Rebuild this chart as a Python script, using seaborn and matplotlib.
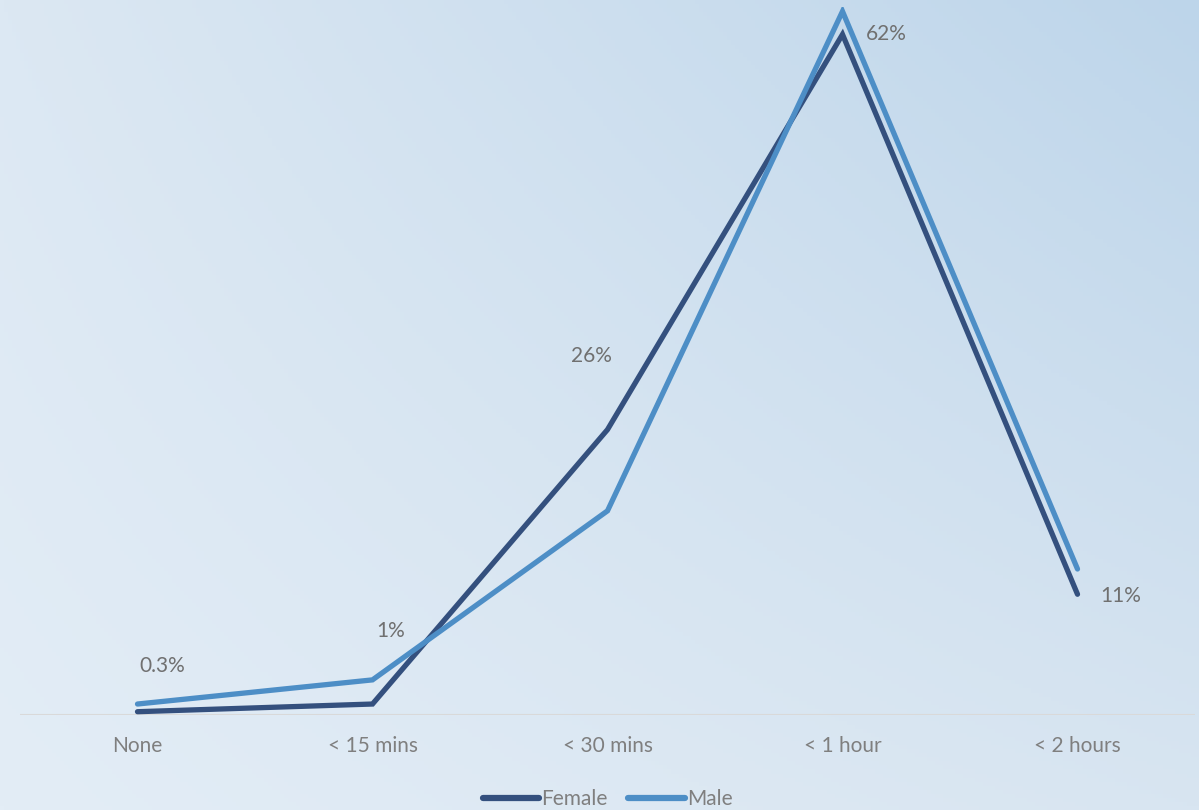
import numpy as np
import pandas as pd
import matplotlib
matplotlib.use("Agg")
import matplotlib.pyplot as plt
import seaborn as sns

categories = ["None", "< 15 mins", "< 30 mins", "< 1 hour", "< 2 hours"]
female = [0.3, 1.0, 26.0, 62.0, 11.0]
male = [1.0, 3.2, 18.6, 64.1, 13.3]
female_labels = ["0.3%", "1%", "26%", "62%", "11%"]
series_names = ["Female", "Male"]

# label offsets in pixels (style)
label_offsets = [(25, 46), (18, 73), (-16, 74), (44, 0), (43, -2)]

sns.set_theme(style="white")
plt.rcParams["font.family"] = ["Lato", "DejaVu Sans"]

df = pd.DataFrame({
    "category": categories * 2,
    "value": female + male,
    "series": [series_names[0]] * len(categories) + [series_names[1]] * len(categories),
})

fig = plt.figure(figsize=(11.99, 8.10), dpi=100)

# background gradient
bg = fig.add_axes([0, 0, 1, 1], zorder=-10)
tl = np.array([220, 232, 243]) / 255
tr = np.array([189, 213, 234]) / 255
bl = np.array([227, 237, 246]) / 255
br = np.array([216, 229, 241]) / 255
ny, nx = 200, 300
yy, xx = np.mgrid[0:1:ny * 1j, 0:1:nx * 1j]
img = (tl[None, None, :] * ((1 - xx) * (1 - yy))[..., None]
       + tr[None, None, :] * (xx * (1 - yy))[..., None]
       + bl[None, None, :] * ((1 - xx) * yy)[..., None]
       + br[None, None, :] * (xx * yy)[..., None])
bg.imshow(img, aspect="auto", extent=[0, 1, 0, 1], origin="upper")
bg.axis("off")

ax = fig.add_axes([20 / 1199, 95 / 810, 1175 / 1199, 708 / 810])
ax.patch.set_alpha(0)

palette = {"Female": "#34507E", "Male": "#4D8EC6"}
sns.lineplot(data=df, x="category", y="value", hue="series", palette=palette,
             linewidth=3.8, ax=ax, sort=False, legend=True,
             solid_capstyle="round", solid_joinstyle="miter")

ax.set_xlim(-0.5, len(categories) - 0.5)
ax.set_ylim(0, 64.5)
ax.set_xlabel("")
ax.set_ylabel("")
ax.set_yticks([])
for s in ax.spines.values():
    s.set_visible(False)
ax.axhline(0, color="#D9D9D9", linewidth=1.5, zorder=0)
ax.tick_params(axis="x", length=0, pad=15, labelsize=15, labelcolor="#7F7F7F")

for i, (v, lab, off) in enumerate(zip(female, female_labels, label_offsets)):
    ax.annotate(lab, xy=(i, v), xytext=off, textcoords="offset pixels",
                ha="center", va="center", fontsize=15, color="#707070")

handles, labels = ax.get_legend_handles_labels()
leg = ax.legend(handles, labels, loc="upper center", bbox_to_anchor=(0.5, -0.078),
                ncol=2, frameon=False, fontsize=15, handlelength=2.7,
                handletextpad=0.1, columnspacing=1.0, labelcolor="#7F7F7F")
for line in leg.get_lines():
    line.set_linewidth(4.5)
    line.set_solid_capstyle("round")

fig.savefig("out.png", dpi=100)
